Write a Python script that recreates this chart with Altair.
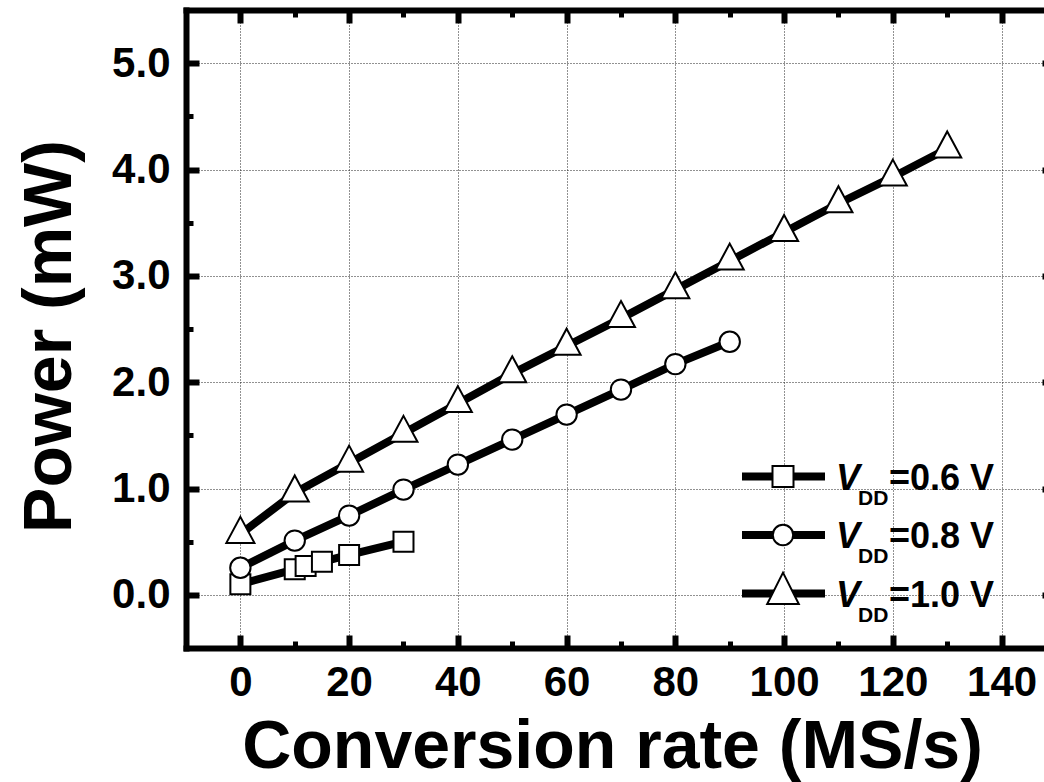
import altair as alt
import pandas as pd

# ---- data ----
x_06 = [0, 10, 12, 15, 20, 30]
p_06 = [0.10, 0.24, 0.27, 0.31, 0.375, 0.50]

x_08 = [0, 10, 20, 30, 40, 50, 60, 70, 80, 90]
p_08 = [0.255, 0.51, 0.745, 0.99, 1.225, 1.46, 1.695, 1.93, 2.17, 2.38]

x_10 = [0, 10, 20, 30, 40, 50, 60, 70, 80, 90, 100, 110, 120, 130]
p_10 = [0.57, 0.96, 1.24, 1.52, 1.80, 2.08, 2.34, 2.60, 2.87, 3.14, 3.41, 3.68, 3.93, 4.195]

legend_values = ["=0.6 V", "=0.8 V", "=1.0 V"]

x_major = [0, 20, 40, 60, 80, 100, 120, 140]
x_minor = [10, 30, 50, 70, 90, 110, 130]
y_major = [0, 1, 2, 3, 4, 5]
y_minor = [0.5, 1.5, 2.5, 3.5, 4.5]

FONT = "Liberation Sans"
W, H = 858, 638          # the frame continues past the right edge of the picture

df06 = pd.DataFrame({"x": x_06, "y": p_06})
df08 = pd.DataFrame({"x": x_08, "y": p_08})
df10 = pd.DataFrame({"x": x_10, "y": p_10})

xs = alt.Scale(domain=[-10, 147.8], nice=False, zero=False)
ys = alt.Scale(domain=[-0.5, 5.5], nice=False, zero=False)

tick_common = dict(domain=False, tickColor="black", tickCap="butt")

ax_x_major = alt.Axis(orient="bottom", values=x_major, format="d", offset=-13, tickSize=13,
                      tickWidth=6, labelFont=FONT, labelFontSize=42, labelFontWeight="bold",
                      labelColor="black", labelPadding=14, labelFlush=False, labelOverlap=False,
                      grid=True, gridColor="#222222", gridDash=[1, 2], gridWidth=1,
                      title="Conversion rate (MS/s)", titleFont=FONT, titleFontSize=68,
                      titleFontWeight="bold", titleColor="black", titleX=426, titleY=132,
                      titleBaseline="alphabetic", titleAlign="center", **tick_common)
ax_y_major = alt.Axis(orient="left", values=y_major, format=".1f", offset=-13, tickSize=13,
                      tickWidth=6, labelFont=FONT, labelFontSize=42, labelFontWeight="bold",
                      labelColor="black", labelPadding=16, labelFlush=False, labelOverlap=False,
                      grid=True, gridColor="#222222", gridDash=[1, 2], gridWidth=1,
                      title="Power (mW)", titleFont=FONT, titleFontSize=68,
                      titleFontWeight="bold", titleColor="black", titleAngle=270,
                      titleX=-129, titleY=326, titleBaseline="alphabetic", titleAlign="center",
                      **tick_common)


def plain_axis(orient, values, size, width, offset=None):
    return alt.Axis(orient=orient, values=values, offset=-size if offset is None else offset,
                    tickSize=size, tickWidth=width,
                    labels=False, grid=False, title=None, **tick_common)


def frame_axis(orient):
    return alt.Axis(orient=orient, domain=True, domainColor="black", domainWidth=6,
                    domainCap="square", ticks=False, labels=False, grid=False, title=None)


ax_x_minor = plain_axis("bottom", x_minor, 7, 5)
ax_y_minor = plain_axis("left", y_minor, 7, 5)
ax_x_top = plain_axis("top", x_major, 13, 6)
ax_x_top_minor = plain_axis("top", x_minor, 7, 5)
# right frame lies just outside the picture: only the tips of its major ticks show
ax_y_right = plain_axis("right", y_major, 13, 6, offset=-2)

TRI = "M0,-1.238L1,0.619L-1,0.619Z"


def enc(chart, xaxis=None, yaxis=None):
    return chart.encode(
        x=alt.X("x:Q", scale=xs, axis=xaxis),
        y=alt.Y("y:Q", scale=ys, axis=yaxis),
    )


line_kw = dict(color="black", strokeWidth=8, strokeJoin="miter", strokeCap="butt")
pt_kw = dict(filled=True, fill="white", stroke="black", strokeWidth=2, opacity=1)

l06 = enc(alt.Chart(df06).mark_line(**line_kw), ax_x_major, ax_y_major)
s06 = enc(alt.Chart(df06).mark_point(shape="square", size=400, **pt_kw),
          frame_axis("bottom"), frame_axis("left"))
l08 = enc(alt.Chart(df08).mark_line(**line_kw), ax_x_minor, ax_y_minor)
s08 = enc(alt.Chart(df08).mark_point(shape="circle", size=415, **pt_kw),
          frame_axis("top"), ax_y_right)
l10 = enc(alt.Chart(df10).mark_line(**line_kw), ax_x_top, None)
s10 = enc(alt.Chart(df10).mark_point(shape=TRI, size=784, **pt_kw), ax_x_top_minor, None)

# ---- custom legend (pixel positions inside the plot area) ----
legend_layers = []
shapes = [("square", 441), ("circle", 415), ("M0,-1.32L1,0.66L-1,0.66Z", 1000)]
row0, dy = 466.5, 58.5
for i, (lab, (shp, sz)) in enumerate(zip(legend_values, shapes)):
    yy = row0 + i * dy
    d = pd.DataFrame({"t": [lab]})
    base = alt.Chart(d)
    legend_layers.append(base.mark_rule(color="black", strokeWidth=8, strokeCap="butt").encode(
        x=alt.value(556), x2=alt.value(639), y=alt.value(yy)))
    legend_layers.append(base.mark_point(shape=shp, size=sz, **pt_kw).encode(
        x=alt.value(597), y=alt.value(yy)))
    legend_layers.append(base.mark_text(font=FONT, fontSize=36, fontWeight="bold", fontStyle="italic",
                                        align="left", baseline="alphabetic", color="black").encode(
        x=alt.value(650), y=alt.value(yy + 13), text=alt.value("V")))
    legend_layers.append(base.mark_text(font=FONT, fontSize=21, fontWeight="bold",
                                        align="left", baseline="alphabetic", color="black").encode(
        x=alt.value(672), y=alt.value(yy + 28), text=alt.value("DD")))
    legend_layers.append(base.mark_text(font=FONT, fontSize=36, fontWeight="bold",
                                        align="left", baseline="alphabetic", color="black").encode(
        x=alt.value(703), y=alt.value(yy + 13), text=alt.Text("t:N")))

chart = alt.layer(l06, s06, l08, s08, l10, s10, *legend_layers).resolve_axis(
    x="independent", y="independent"
).properties(
    width=W, height=H,
    autosize=alt.AutoSizeParams(type="none"),
    padding={"left": 186, "top": 10, "right": 0, "bottom": 134},
    background="white",
).configure_view(stroke=None)

chart.save("out.html", embed_options={"renderer": "svg", "actions": False})
